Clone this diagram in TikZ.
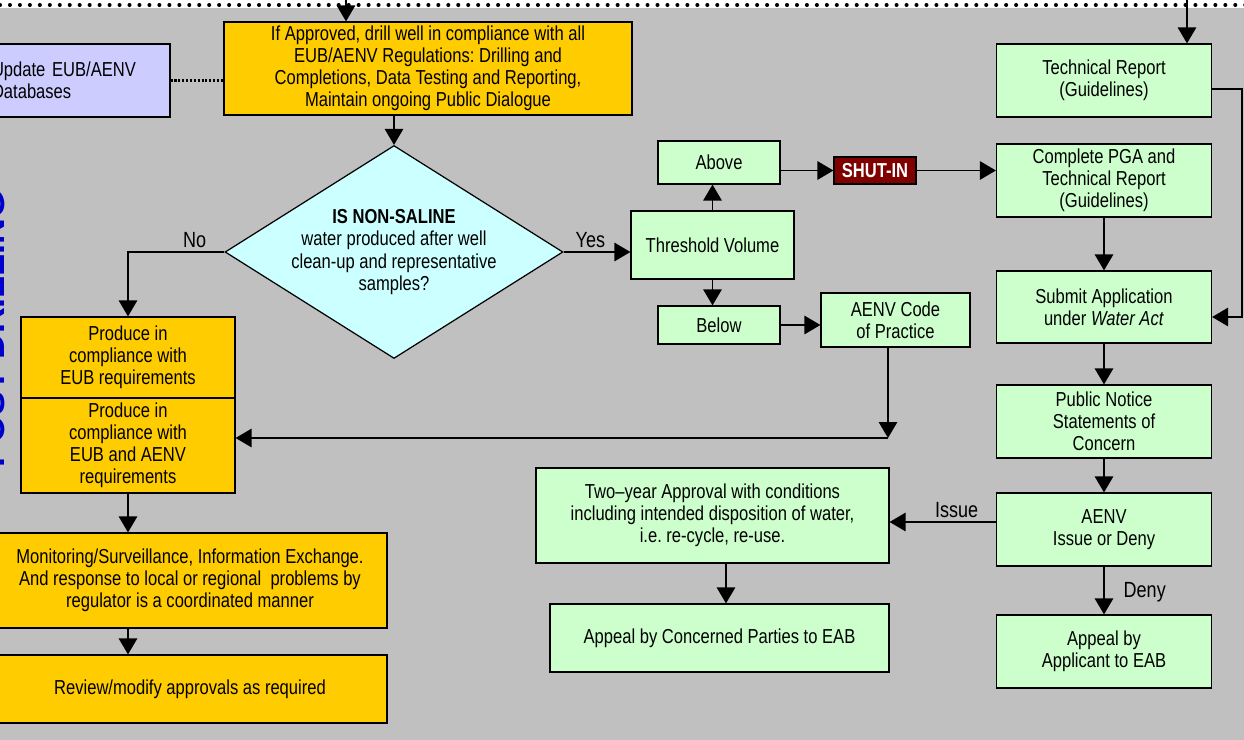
\documentclass[tikz,border=0pt]{standalone}
\usepackage{fontspec}
\setmainfont{Liberation Sans}[FakeStretch=0.82]
\newfontfamily\widefont{Liberation Sans}
\usepackage{xcolor}
\usetikzlibrary{arrows.meta,shapes.geometric,positioning}

\definecolor{gold}{HTML}{FFCC00}
\definecolor{mint}{HTML}{CCFFCC}
\definecolor{icecyan}{HTML}{CCFFFF}
\definecolor{lavender}{HTML}{CCCCFF}
\definecolor{panel}{HTML}{C0C0C0}
\definecolor{shutred}{HTML}{800000}
\definecolor{titleblue}{HTML}{0000CC}
\frenchspacing

\begin{document}
\begin{tikzpicture}[x=0.02cm, y=-0.02cm,
  box/.style={draw, line width=0.7pt, align=center, inner sep=1pt, font=\fontsize{11.5}{12.6}\selectfont},
  goldbox/.style={box, fill=gold},
  mintbox/.style={box, fill=mint},
  arr/.style={line width=0.8pt, -{Triangle[width=0.37cm, length=0.32cm]}},
  lbl/.style={font=\fontsize{12.5}{14}\selectfont, inner sep=2pt}]

\clip (0,0) rectangle (1244,740);
\fill[white] (0,0) rectangle (1244,740);
\fill[panel] (0,8) rectangle (1244,740);
\draw[line width=2.3pt, line cap=round, dash pattern=on 0pt off 5.67pt] (0,5) -- (1250,5);

% phase title, cut by the left edge
\node[rotate=90, anchor=base, text=titleblue, inner sep=0,
  font=\widefont\bfseries\fontsize{20.4}{24}\selectfont] (phase) at (5,329) {POST DRILLING};

% drilling and decision
\node[box, fill=lavender, minimum width=3.6cm, minimum height=1.46cm, text width=3.52cm, align=left, inner xsep=0.04cm] (update) at (80,80.5) {Update EUB/AENV\\Databases};
\node[goldbox, minimum width=8.16cm, minimum height=1.86cm] (drill) at (428,68.5) {If Approved, drill well in compliance with all\\EUB/AENV Regulations: Drilling and\\Completions, Data Testing and Reporting,\\Maintain ongoing Public Dialogue};
\node[draw, shape=diamond, fill=icecyan, line width=0.7pt, inner sep=0, minimum width=6.76cm, minimum height=4.26cm,
  label={[align=center, font=\fontsize{11.5}{12.6}\selectfont]center:{\textbf{IS NON-SALINE}\\water produced after well\\clean-up and representative\\samples?}}] (saline) at (394,252) {};

% volume branch
\node[mintbox, minimum width=3.26cm, minimum height=1.36cm] (threshold) at (712.5,245) {Threshold Volume};
\node[mintbox, minimum width=2.44cm, minimum height=0.86cm] (above) at (719,162.5) {Above};
\node[mintbox, minimum width=2.44cm, minimum height=0.76cm] (below) at (719,325) {Below};
\node[box, fill=shutred, text=white, font=\bfseries\fontsize{11.5}{12.6}\selectfont, minimum width=1.64cm, minimum height=0.54cm] (shutin) at (875,170.5) {SHUT-IN};
\node[mintbox, minimum width=2.98cm, minimum height=1.08cm] (code) at (895.5,320) {AENV Code\\of Practice};

% application column
\node[mintbox, minimum width=4.3cm, minimum height=1.46cm] (techrep) at (1104,80.5) {Technical Report\\(Guidelines)};
\node[mintbox, minimum width=4.3cm, minimum height=1.46cm] (complete) at (1104,180.5) {Complete PGA and\\Technical Report\\(Guidelines)};
\node[mintbox, minimum width=4.3cm, minimum height=1.44cm] (submit) at (1104,307) {Submit Application\\under \textit{Water Act}};
\node[mintbox, minimum width=4.3cm, minimum height=1.46cm] (public) at (1104,421.5) {Public Notice\\Statements of\\Concern};
\node[mintbox, minimum width=4.3cm, minimum height=1.46cm] (decide) at (1104,529.5) {AENV\\Issue or Deny};
\node[mintbox, minimum width=4.3cm, minimum height=1.46cm] (appealA) at (1104,651.5) {Appeal by\\Applicant to EAB};
\node[mintbox, minimum width=7.06cm, minimum height=1.9cm] (twoyear) at (712.5,515.5) {Two--year Approval with conditions\\including intended disposition of water,\\i.e. re-cycle, re-use.};
\node[mintbox, minimum width=6.78cm, minimum height=1.36cm] (appealC) at (719.5,638) {Appeal by Concerned Parties to EAB};

% production column
\node[goldbox, minimum width=4.28cm, minimum height=1.62cm] (produce1) at (128,357.5) {Produce in\\compliance with\\EUB requirements};
\node[goldbox, minimum width=4.28cm, minimum height=1.9cm] (produce2) at (128,445.5) {Produce in\\compliance with\\EUB and AENV\\requirements};
\node[goldbox, minimum width=7.88cm, minimum height=1.9cm] (monitor) at (190,580.5) {Monitoring/Surveillance, Information Exchange.\\And response to local or regional~ problems by\\regulator is a coordinated manner};
\node[goldbox, minimum width=7.88cm, minimum height=1.36cm] (review) at (190,689) {Review/modify approvals as required};

\coordinate (feedA) at (346,0);
\coordinate (feedB) at (1187,0);
\coordinate (join) at (888,438);
\coordinate (loop) at (1242,317);

% connectors
\draw[arr] (feedA) -- (feedA |- drill.north);
\draw[arr] (feedB) -- (feedB |- techrep.north);
\draw[line width=1.2pt, densely dotted] (update.east) -- (update.east -| drill.west);
\draw[arr] (saline.north |- drill.south) -- (saline.north);
\draw[arr] (saline.west) -- node[lbl, above, pos=0.31] {No} (produce1.north |- saline.west) -- (produce1.north);
\draw[arr] (saline.east) -- node[lbl, above, pos=0.4] {Yes} (saline.east -| threshold.west);
\draw[arr] (threshold.north) -- (threshold.north |- above.south);
\draw[arr] (threshold.south) -- (threshold.south |- below.north);
\draw[arr] (above.east |- shutin.west) -- (shutin.west);
\draw[arr] (shutin.east) -- (shutin.east -| complete.west);
\draw[arr] (below.east) -- (below.east -| code.west);
\draw[arr] (code.south -| join) -- (join);
\draw[arr] (join) -- (join -| produce2.east);
\draw[arr] (complete.south) -- (submit.north);
\draw[arr] (techrep.east |- 0,89) -| (loop) -- (loop -| submit.east);
\draw[arr] (submit.south) -- (public.north);
\draw[arr] (public.south) -- (decide.north);
\draw[arr] (decide.south) -- node[lbl, right, pos=0.53, xshift=0.31cm] {Deny} (appealA.north);
\draw[arr] (decide.west |- 0,522) -- node[lbl, above, pos=0.37] {Issue} (twoyear.east |- 0,522);
\draw[arr] ([xshift=0.27cm]twoyear.south) -- ([xshift=0.27cm]twoyear.south |- appealC.north);
\draw[arr] (produce2.south) -- (produce2.south |- monitor.north);
\draw[arr] (produce2.south |- monitor.south) -- (produce2.south |- review.north);
\end{tikzpicture}
\end{document}
